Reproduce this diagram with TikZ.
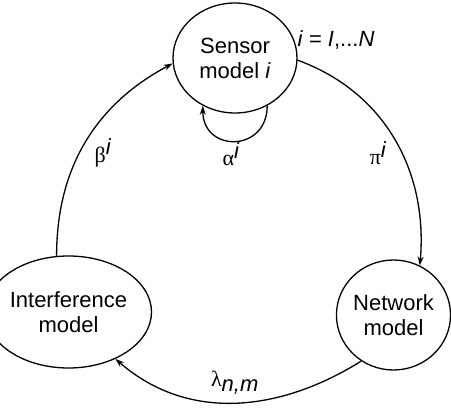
\documentclass[tikz,border=0pt]{standalone}
\usepackage{fontspec}
\setmainfont{Liberation Sans}
\newfontfamily\grk{Liberation Serif}
\usetikzlibrary{arrows.meta,shapes.geometric}
\tikzset{
  model/.style={draw, ellipse, line width=1.3pt, inner sep=0pt, align=center,
    font=\fontsize{22}{25}\selectfont},
  conn/.style={line width=1.3pt, -{Stealth[length=9pt,width=6pt]}},
  lbl/.style={font=\fontsize{22}{24}\selectfont, inner sep=0pt}
}
\begin{document}
\begin{tikzpicture}[x=1pt,y=1pt]
\useasboundingbox (0,0) rectangle (451,408);
\node[model, minimum width=124pt, minimum height=110pt] (sensor) at (235,350) {Sensor\\model \textit{i}};
\node[model, minimum width=123pt, minimum height=112pt] (intf) at (68.5,96) {Interference\\model};
\node[model, minimum width=113pt, minimum height=110pt] (net) at (393.5,93) {Network\\model};
% arcs
\draw[conn] (sensor.-2) to[out=-20, in=85] (net.62);
\draw[conn] (net.235) to[out=212, in=-41] (intf.-45);
\draw[conn] (intf.102) to[out=90, in=208] (sensor.185);
% self loop
\draw[conn] (sensor.-56) .. controls +(0,-47) and +(0,-47) .. (sensor.-124);
% labels
\node[lbl] (range) at (336,368) {\textit{i} = \textit{I},...\textit{N}};
\node[lbl] (pi) at (378,255) {{\grk π}$^{\textit{i}}$};
\node[lbl] (alpha) at (231,254) {{\grk α}$^{\textit{i}}$};
\node[lbl] (beta) at (103,255) {{\grk β}$^{\textit{i}}$};
\node[lbl] (lambda) at (235,25) {{\grk λ}$_{\textit{n,m}}$};
\end{tikzpicture}
\end{document}
